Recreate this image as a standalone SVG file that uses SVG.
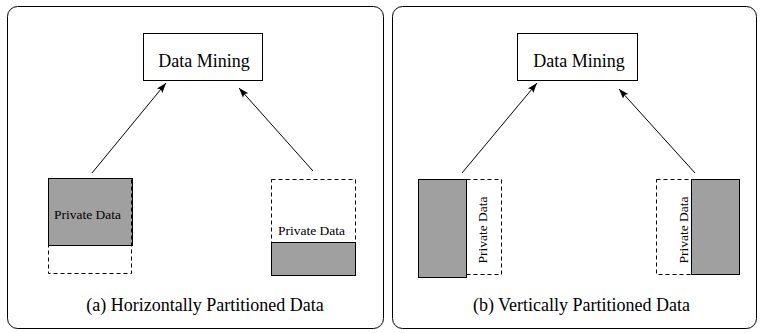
<svg xmlns="http://www.w3.org/2000/svg" width="762" height="333" viewBox="0 0 762 333">
<style>
.panel{fill:none;stroke:#000;stroke-width:1}
.box{fill:#fff;stroke:#000;stroke-width:1}
.gray{fill:#a0a0a0;stroke:#000;stroke-width:1}
.dash{fill:none;stroke:#000;stroke-width:1;stroke-dasharray:4,3}
.t{font-family:"Liberation Serif","Times New Roman",serif;fill:#000}
.conn{stroke:#000;stroke-width:1;fill:none;marker-end:url(#ah)}
</style>
<defs>
<marker id="ah" viewBox="0 0 10 10" refX="10" refY="5" markerWidth="10" markerHeight="10" markerUnits="userSpaceOnUse" orient="auto">
<path d="M0,1.5 L10,5 L0,8.5 L2,5 Z" fill="#000"/>
</marker>
</defs>
<rect class="panel" x="7.5" y="6.5" width="376" height="322" rx="10"/>
<rect class="panel" x="392.5" y="6.5" width="364" height="322" rx="10"/>
<g id="dm-a">
<rect class="box" x="143.5" y="33.5" width="119" height="47"/>
<text class="t" x="204" y="67" font-size="18" text-anchor="middle">Data Mining</text>
</g>
<g id="pd-a1">
<rect class="gray" x="48.5" y="178.5" width="84" height="67"/>
<rect class="dash" x="48.5" y="178.5" width="83" height="95"/>
<text class="t" x="54" y="219" font-size="13.5">Private Data</text>
</g>
<g id="pd-a2">
<rect class="dash" x="271.5" y="179.5" width="84" height="96"/>
<rect class="gray" x="271.5" y="242.5" width="84" height="33"/>
<text class="t" x="311.5" y="235" font-size="13.5" text-anchor="middle">Private Data</text>
</g>
<g id="dm-b">
<rect class="box" x="517.5" y="33.5" width="120" height="47"/>
<text class="t" x="579" y="67" font-size="18" text-anchor="middle">Data Mining</text>
</g>
<g id="pd-b1">
<rect class="dash" x="466.5" y="179.5" width="35" height="95"/>
<rect class="gray" x="418.5" y="179.5" width="48" height="98"/>
<text class="t" transform="translate(487,230) rotate(-90)" font-size="13.5" text-anchor="middle">Private Data</text>
</g>
<g id="pd-b2">
<rect class="dash" x="656.5" y="179.5" width="36" height="95"/>
<rect class="gray" x="691.5" y="179.5" width="48" height="95"/>
<text class="t" transform="translate(688,230) rotate(-90)" font-size="13.5" text-anchor="middle">Private Data</text>
</g>
<g id="connectors">
<line class="conn" x1="92" y1="173" x2="166" y2="83"/>
<line class="conn" x1="313" y1="171" x2="239" y2="88"/>
<line class="conn" x1="462" y1="173" x2="537" y2="83"/>
<line class="conn" x1="695" y1="173" x2="619" y2="89"/>
</g>
<g id="captions">
<text class="t" x="205" y="311" font-size="18" text-anchor="middle">(a) Horizontally Partitioned Data</text>
<text class="t" x="581.5" y="311" font-size="18" text-anchor="middle">(b) Vertically Partitioned Data</text>
</g>
</svg>
